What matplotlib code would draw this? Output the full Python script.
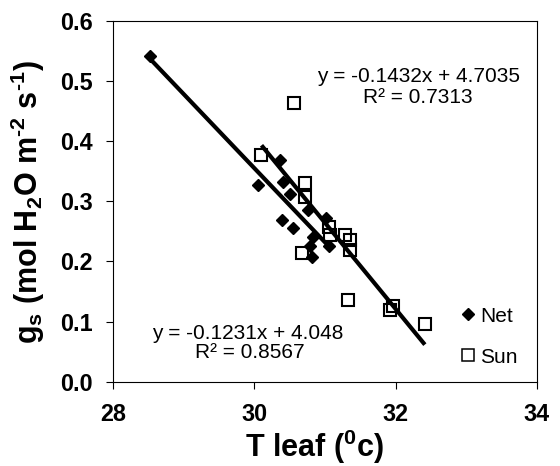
import matplotlib
matplotlib.use("Agg")
import matplotlib.pyplot as plt
import numpy as np

plt.rcParams["font.family"] = ["Liberation Sans", "DejaVu Sans"]
plt.rcParams["mathtext.fontset"] = "custom"
plt.rcParams["mathtext.rm"] = "Liberation Sans:bold"
plt.rcParams["mathtext.bf"] = "Liberation Sans:bold"
plt.rcParams["mathtext.it"] = "Liberation Sans:bold"
plt.rcParams["mathtext.default"] = "bf"

# Leaf temperature (°C) vs stomatal conductance
net_x = [28.52, 30.36, 30.05, 30.41, 30.50, 30.76, 30.385, 30.55, 31.02, 30.83, 30.79, 31.05, 30.81]
net_y = [0.542, 0.369, 0.327, 0.333, 0.313, 0.286, 0.269, 0.255, 0.272, 0.241, 0.225, 0.225, 0.208]

sun_x = [30.556, 30.10, 30.715, 30.715, 31.05, 31.07, 31.28, 31.35, 31.35, 30.67, 31.33, 31.92, 31.97, 32.415]
sun_y = [0.463, 0.377, 0.330, 0.308, 0.258, 0.244, 0.244, 0.236, 0.219, 0.214, 0.136, 0.119, 0.126, 0.096]

# Linear trendlines
net_slope, net_icpt, net_r2 = -0.1231, 4.048, 0.8567
sun_slope, sun_icpt, sun_r2 = -0.1432, 4.7035, 0.7313

x_ticks = [28, 30, 32, 34]
y_ticks = [0.0, 0.1, 0.2, 0.3, 0.4, 0.5, 0.6]

fig = plt.figure(figsize=(5.6, 4.66), dpi=100)
ax = fig.add_axes([113.3 / 560, 1 - 381.7 / 466, 423.4 / 560, 360.7 / 466])

ax.plot(net_x, net_y, linestyle="none", marker="D", ms=6.3, color="black",
        label="Net", zorder=3)
ax.plot(sun_x, sun_y, linestyle="none", marker="s", ms=8.3, mfc="none",
        mec="black", mew=1.5, label="Sun", zorder=3)

for xs, m, b in [(net_x, net_slope, net_icpt), (sun_x, sun_slope, sun_icpt)]:
    xl = np.array([min(xs), max(xs)])
    ax.plot(xl, m * xl + b, color="black", lw=3.0, solid_capstyle="butt", zorder=4)

eq_fs = 15
ax.text(32.32, 0.499, f"y = {sun_slope}x + {sun_icpt}", ha="center", va="baseline", fontsize=eq_fs)
ax.text(32.31, 0.463, f"R² = {sun_r2}", ha="center", va="baseline", fontsize=eq_fs)
ax.text(29.91, 0.0715, f"y = {net_slope}x + {net_icpt}", ha="center", va="baseline", fontsize=eq_fs)
ax.text(29.94, 0.040, f"R² = {net_r2}", ha="center", va="baseline", fontsize=eq_fs)

ax.set_xlim(28, 34)
ax.set_ylim(0, 0.6)
ax.set_xticks(x_ticks)
ax.set_yticks(y_ticks)
ax.set_xticklabels([str(t) for t in x_ticks])
ax.set_yticklabels([f"{t:.1f}" for t in y_ticks])
ax.tick_params(direction="out", length=5, width=0.8, labelsize=16.8, pad=10)
for lab in ax.get_xticklabels() + ax.get_yticklabels():
    lab.set_fontweight("bold")
for sp in ax.spines.values():
    sp.set_linewidth(0.8)

leg = ax.legend(loc="upper left", bbox_to_anchor=(0.82, 0.208), frameon=False,
                fontsize=15, handlelength=0.75, handletextpad=0.2,
                labelspacing=1.06, borderpad=0, borderaxespad=0)
leg.legend_handles[1].set_markeredgewidth(1.1)

fig.text(314 / 560, 1 - 457 / 466, "T leaf ($^{0}$c)", ha="center", va="baseline",
         fontsize=22, fontweight="bold")
fig.text(28 / 560, 1 - 202 / 466,
         r"g$_{s}$ (mol H$_{2}$O m$^{\text{-}2}$ s$^{\text{-}1}$)",
         ha="center", va="center", rotation=90, fontsize=22, fontweight="bold")

fig.savefig("out.png", dpi=100)
